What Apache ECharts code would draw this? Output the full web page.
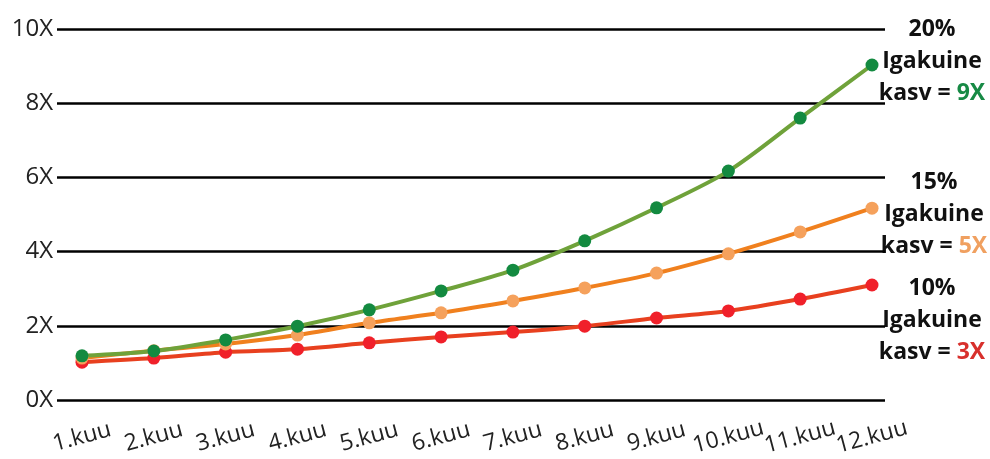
<!DOCTYPE html>
<html>
<head>
<meta charset="utf-8">
<script src="https://cdn.jsdelivr.net/npm/echarts@6/dist/echarts.min.js"></script>
<style>
  html, body { margin: 0; padding: 0; background: #fff; }
  #chart { width: 990px; height: 459px; }
</style>
</head>
<body>
<div id="chart"></div>
<script>
// kuud (x-telje sildid)
var months = ['1.kuu', '2.kuu', '3.kuu', '4.kuu', '5.kuu', '6.kuu', '7.kuu', '8.kuu', '9.kuu', '10.kuu', '11.kuu', '12.kuu'];
// y-telje vahemik
var yTicks = [0, 2, 4, 6, 8, 10];
// igakuine kasv 20% / 15% / 10% (loetud pildilt)
var growth20 = [1.19, 1.32, 1.62, 1.99, 2.43, 2.94, 3.50, 4.29, 5.18, 6.17, 7.60, 9.03];
var growth15 = [1.13, 1.33, 1.51, 1.75, 2.08, 2.35, 2.67, 3.02, 3.42, 3.94, 4.53, 5.17];
var growth10 = [1.02, 1.13, 1.29, 1.37, 1.54, 1.70, 1.83, 1.99, 2.21, 2.40, 2.72, 3.10];

var font = '"Open Sans", "DejaVu Sans", sans-serif';
var myChart = echarts.init(document.getElementById('chart'));

// ühine seeria seadistus
function makeSeries(name, data, lineColor, dotColor) {
  return {
    name: name,
    type: 'line',
    xAxisIndex: 1,
    yAxisIndex: 1,
    data: data,
    smooth: 0.3,
    symbol: 'circle',
    symbolSize: 13,
    lineStyle: { color: lineColor, width: 4 },
    itemStyle: { color: dotColor },
    emphasis: { disabled: true }
  };
}

// paremal olevad tekstiplokid
function sideText(x, y, pct, end, color) {
  return {
    type: 'text',
    x: x,
    y: y,
    style: {
      text: pct + '\nIgakuine\nkasv = {c|' + end + '}',
      textAlign: 'center',
      textVerticalAlign: 'top',
      font: 'bold 23px ' + font,
      fill: '#111',
      lineHeight: 32,
      rich: { c: { fill: color, font: 'bold 23px ' + font, lineHeight: 32 } }
    }
  };
}

var option = {
  animation: false,
  textStyle: { fontFamily: font },
  grid: [
    // ruudustik (jooned 57..885)
    { left: 57, right: 105, top: 29, bottom: 59 },
    // andmed (punktid 82..872)
    { left: 82, right: 118, top: 29, bottom: 59 }
  ],
  xAxis: [
    { gridIndex: 0, type: 'value', min: 0, max: 1, show: false },
    {
      gridIndex: 1,
      type: 'category',
      data: months,
      boundaryGap: false,
      axisLine: { show: false },
      axisTick: { show: false },
      axisLabel: {
        interval: 0,
        rotate: 15,
        align: 'center',
        verticalAlign: 'middle',
        margin: 37,
        fontSize: 23,
        color: '#222',
        fontFamily: font
      },
      splitLine: { show: false }
    }
  ],
  yAxis: [
    {
      gridIndex: 0,
      type: 'value',
      min: yTicks[0],
      max: yTicks[yTicks.length - 1],
      interval: 2,
      axisLine: { show: false },
      axisTick: { show: false },
      axisLabel: {
        formatter: '{value}X',
        fontSize: 24,
        color: '#222',
        margin: 4,
        fontFamily: font
      },
      splitLine: { lineStyle: { color: '#000', width: 2.5 } }
    },
    {
      gridIndex: 1,
      type: 'value',
      min: yTicks[0],
      max: yTicks[yTicks.length - 1],
      show: false
    }
  ],
  series: [
    makeSeries('10%', growth10, '#e8401f', '#f0202a'),
    makeSeries('15%', growth15, '#f0801e', '#f5a15c'),
    makeSeries('20%', growth20, '#6fa23a', '#138a40')
  ],
  graphic: [
    sideText(932, 13, '20%', '9X', '#178a45'),
    sideText(934, 166, '15%', '5X', '#f0a060'),
    sideText(932, 272, '10%', '3X', '#d8302c')
  ]
};

myChart.setOption(option);
</script>
</body>
</html>
